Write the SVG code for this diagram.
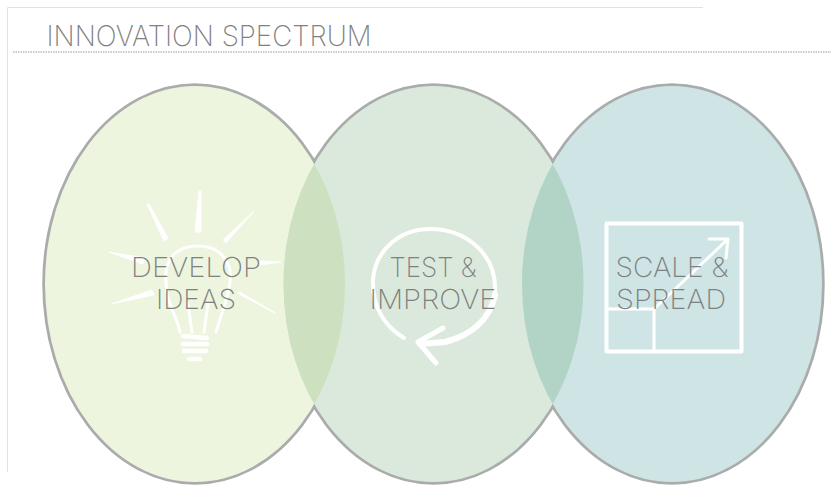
<svg xmlns="http://www.w3.org/2000/svg" width="831" height="495" viewBox="0 0 831 495">
<style>
.t{font-family:"Inter","Lato","Liberation Sans",sans-serif;font-weight:200;fill:#7f8181;text-anchor:middle}
.lbl{font-size:27.500px}
.o{fill:none;stroke:#aaacac;stroke-width:3.500}
.w{fill:none;stroke:#fff;stroke-linecap:round;stroke-linejoin:round}
.r{fill:#fff;stroke:#fff;stroke-width:1;stroke-linejoin:round}
</style>
<defs>
<clipPath id="cl"><ellipse cx="195" cy="284" rx="150" ry="198"/></clipPath>
<clipPath id="cm"><ellipse cx="433.500" cy="284" rx="150" ry="198"/></clipPath>
</defs>
<rect width="831" height="495" fill="#fff"/>
<path d="M7.500 472V7.500H703" fill="none" stroke="#e2e2e2"/>
<line x1="13" y1="52" x2="831" y2="52" stroke="#b8baba" stroke-width="1.500" stroke-dasharray="1.500 1"/>
<text class="t" x="209" y="46" font-size="28" textLength="325" lengthAdjust="spacingAndGlyphs">INNOVATION SPECTRUM</text>
<g id="outlines" class="o">
<ellipse cx="195" cy="284" rx="151" ry="199"/>
<ellipse cx="433.500" cy="284" rx="151" ry="199"/>
<ellipse cx="672" cy="284" rx="151" ry="199"/>
</g>
<g id="node-develop">
<ellipse cx="195" cy="284" rx="150" ry="198" fill="#edf5df"/>
</g>
<g id="node-test">
<ellipse cx="433.500" cy="284" rx="150" ry="198" fill="#dbe9dc"/>
</g>
<g id="node-scale">
<ellipse cx="672" cy="284" rx="150" ry="198" fill="#cfe4e4"/>
</g>
<ellipse cx="433.500" cy="284" rx="150" ry="198" fill="#cde0c0" clip-path="url(#cl)"/>
<ellipse cx="672" cy="284" rx="150" ry="198" fill="#b2d4c6" clip-path="url(#cm)"/>
<g id="icon-bulb">
<g class="r">
<path d="M147 204L149 204L168 238L164 241Z"/>
<path d="M199 191L201 191L201 232L195 232Z"/>
<path d="M254 211L226 243L223 240Z"/>
<path d="M109 252L144 258L143 264Z"/>
<path d="M260 261L281 262L260 265Z"/>
<path d="M111 304L152 290L154 295Z"/>
<path d="M237 293L240 292L275 313Z"/>
</g>
<g class="w">
<path stroke-width="3" d="M180 332C176 312 164 302 166 272C168 252 184 246 198 246C214 246 226 254 230 270C232 286 226 300 216 332M192 332L188 304M204 332L208 304"/>
<path stroke-width="4.500" d="M183 336L207 338M183 344L207 344M184 351L206 351M189 359L200 359"/>
</g>
</g>
<g id="icon-cycle" class="w">
<path stroke-width="4" d="M404 338C384 326 372 306 373 280C375 250 400 229 430 229C466 229 496 254 495 290C494 316 474 334 448 340"/>
<path stroke-width="6" d="M495 295C490 320 470 336 445 342L420 344"/>
<path stroke-width="5" d="M443 328L418 342L436 363"/>
</g>
<g id="icon-scale" class="w">
<rect x="606.500" y="223.500" width="135" height="128" stroke-width="4"/>
<path stroke-width="3" d="M609 309H654V350"/>
<path stroke-width="3" d="M654 309L728 239M709 239H728L726 258"/>
</g>
<g id="labels">
<text class="t lbl" x="196" y="277" textLength="130" lengthAdjust="spacingAndGlyphs">DEVELOP</text>
<text class="t lbl" x="196" y="309" textLength="80" lengthAdjust="spacingAndGlyphs">IDEAS</text>
<text class="t lbl" x="433" y="277" textLength="87" lengthAdjust="spacingAndGlyphs">TEST &amp;</text>
<text class="t lbl" x="433" y="309" textLength="127" lengthAdjust="spacingAndGlyphs">IMPROVE</text>
<text class="t lbl" x="672" y="277" textLength="113" lengthAdjust="spacingAndGlyphs">SCALE &amp;</text>
<text class="t lbl" x="671" y="309" textLength="110" lengthAdjust="spacingAndGlyphs">SPREAD</text>
</g>
</svg>
